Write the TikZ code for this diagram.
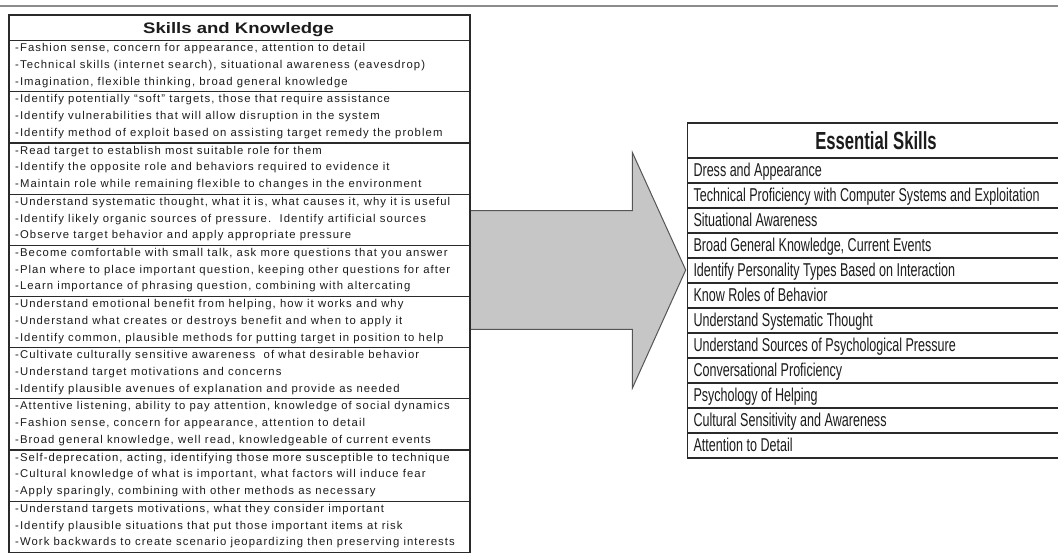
\documentclass[tikz,border=0pt]{standalone}
\usepackage{fontspec}
\setmainfont{Liberation Sans}
\newfontfamily\skillfont[LetterSpace=9.5]{Liberation Sans}
\newfontfamily\skillheadfont[FakeStretch=1.22]{Liberation Sans}
\newfontfamily\condfont[FakeStretch=0.675]{Liberation Sans}
\definecolor{inkline}{HTML}{2A2A2A}
\definecolor{inktext}{HTML}{1C1C1C}
\definecolor{rulegray}{HTML}{8C8C8C}
\definecolor{arrowfill}{HTML}{C6C6C6}
\definecolor{arrowedge}{HTML}{555555}

\tikzset{
  tablebox/.style={draw=inkline, line width=1.5pt, inner sep=0pt, fill=white},
  groupbox/.style={draw=inkline, line width=1.3pt, inner sep=0pt,
    minimum width=461pt, minimum height=51.17pt},
  rowbox/.style={draw=inkline, line width=1.3pt, inner sep=0pt,
    minimum width=378pt, minimum height=25pt},
  skilltext/.style={anchor=base west, inner sep=0pt, text=inktext,
    font=\skillfont\fontsize{11.3}{13}\selectfont},
  skilltitle/.style={anchor=base, inner sep=0pt, text=inktext,
    font=\skillheadfont\bfseries\fontsize{15.2}{17}\selectfont},
  essentialtext/.style={anchor=base west, inner sep=0pt, text=inktext,
    font=\condfont\fontsize{18.6}{20}\selectfont},
  essentialtitle/.style={anchor=base, inner sep=0pt, text=inktext,
    font=\condfont\bfseries\fontsize{24.7}{27}\selectfont},
  bigarrow/.style={fill=arrowfill, draw=arrowedge, line width=1pt, line join=miter},
}

% one block of three lines in the left table
\newcommand\skillgroup[4]{%
  \pgfmathsetmacro\gtop{40+51.17*(#1-1)}%
  \node[groupbox, anchor=north west] (grp#1) at (8,\gtop) {};
  \node[skilltext] (grp#1a) at (15,\gtop+11.8) {#2};
  \node[skilltext] (grp#1b) at (15,\gtop+28.5) {#3};
  \node[skilltext] (grp#1c) at (15,\gtop+45.2) {#4};
}
% one row of the right table
\newcommand\essentialrow[2]{%
  \pgfmathsetmacro\rtop{157.3+25*(#1-1)}%
  \node[rowbox, anchor=north west] (row#1) at (686.7,\rtop) {};
  \node[essentialtext] (row#1t) at (693.3,\rtop+19.4) {#2};
}

\begin{document}
\begin{tikzpicture}[x=1pt,y=-1pt]
\useasboundingbox (0,0) rectangle (1058,558);
\fill[white] (0,0) rectangle (1058,558);
\clip (0,0) rectangle (1058,558);

% thin rule across the top
\coordinate (ruleL) at (0,6);
\coordinate (ruleR) at (1058,6);
\draw[rulegray, line width=1.2pt] (ruleL) -- (ruleR);

% block arrow between the two tables
\coordinate (arrowTail) at (470,270);
\coordinate (arrowTip) at (685.7,270);
\draw[bigarrow] (470,210.7) -- (632.3,210.7) -- (632.3,152.3) -- (arrowTip)
  -- (632.3,388.3) -- (632.3,329.3) -- (470,329.3) -- cycle;

% left table: skills and knowledge
\node[tablebox, anchor=north west, minimum width=461pt, minimum height=537.4pt] (skills) at (8,14.3) {};
\node[groupbox, anchor=north west, minimum height=25.7pt] (skillshead) at (8,14.3) {};
\node[skilltitle] (skillstitle) at (238.5,33.3) {Skills and Knowledge};

\skillgroup{1}{-Fashion sense, concern for appearance, attention to detail}
  {-Technical skills (internet search), situational awareness (eavesdrop)}
  {-Imagination, flexible thinking, broad general knowledge}
\skillgroup{2}{-Identify potentially “soft” targets, those that require assistance}
  {-Identify vulnerabilities that will allow disruption in the system}
  {-Identify method of exploit based on assisting target remedy the problem}
\skillgroup{3}{-Read target to establish most suitable role for them}
  {-Identify the opposite role and behaviors required to evidence it}
  {-Maintain role while remaining flexible to changes in the environment}
\skillgroup{4}{-Understand systematic thought, what it is, what causes it, why it is useful}
  {-Identify likely organic sources of pressure.\ \ Identify artificial sources}
  {-Observe target behavior and apply appropriate pressure}
\skillgroup{5}{-Become comfortable with small talk, ask more questions that you answer}
  {-Plan where to place important question, keeping other questions for after}
  {-Learn importance of phrasing question, combining with altercating}
\skillgroup{6}{-Understand emotional benefit from helping, how it works and why}
  {-Understand what creates or destroys benefit and when to apply it}
  {-Identify common, plausible methods for putting target in position to help}
\skillgroup{7}{-Cultivate culturally sensitive awareness\ \ of what desirable behavior}
  {-Understand target motivations and concerns}
  {-Identify plausible avenues of explanation and provide as needed}
\skillgroup{8}{-Attentive listening, ability to pay attention, knowledge of social dynamics}
  {-Fashion sense, concern for appearance, attention to detail}
  {-Broad general knowledge, well read, knowledgeable of current events}
\skillgroup{9}{-Self-deprecation, acting, identifying those more susceptible to technique}
  {-Cultural knowledge of what is important, what factors will induce fear}
  {-Apply sparingly, combining with other methods as necessary}
\skillgroup{10}{-Understand targets motivations, what they consider important}
  {-Identify plausible situations that put those important items at risk}
  {-Work backwards to create scenario jeopardizing then preserving interests}

% right table: essential skills
\node[tablebox, anchor=north west, minimum width=378pt, minimum height=335pt] (essential) at (686.7,122.3) {};
\node[rowbox, anchor=north west, minimum height=35pt] (essentialhead) at (686.7,122.3) {};
\node[essentialtitle] (essentialtitletext) at (876,149.3) {Essential Skills};

\essentialrow{1}{Dress and Appearance}
\essentialrow{2}{Technical Proficiency with Computer Systems and Exploitation}
\essentialrow{3}{Situational Awareness}
\essentialrow{4}{Broad General Knowledge, Current Events}
\essentialrow{5}{Identify Personality Types Based on Interaction}
\essentialrow{6}{Know Roles of Behavior}
\essentialrow{7}{Understand Systematic Thought}
\essentialrow{8}{Understand Sources of Psychological Pressure}
\essentialrow{9}{Conversational Proficiency}
\essentialrow{10}{Psychology of Helping}
\essentialrow{11}{Cultural Sensitivity and Awareness}
\essentialrow{12}{Attention to Detail}
\end{tikzpicture}
\end{document}
